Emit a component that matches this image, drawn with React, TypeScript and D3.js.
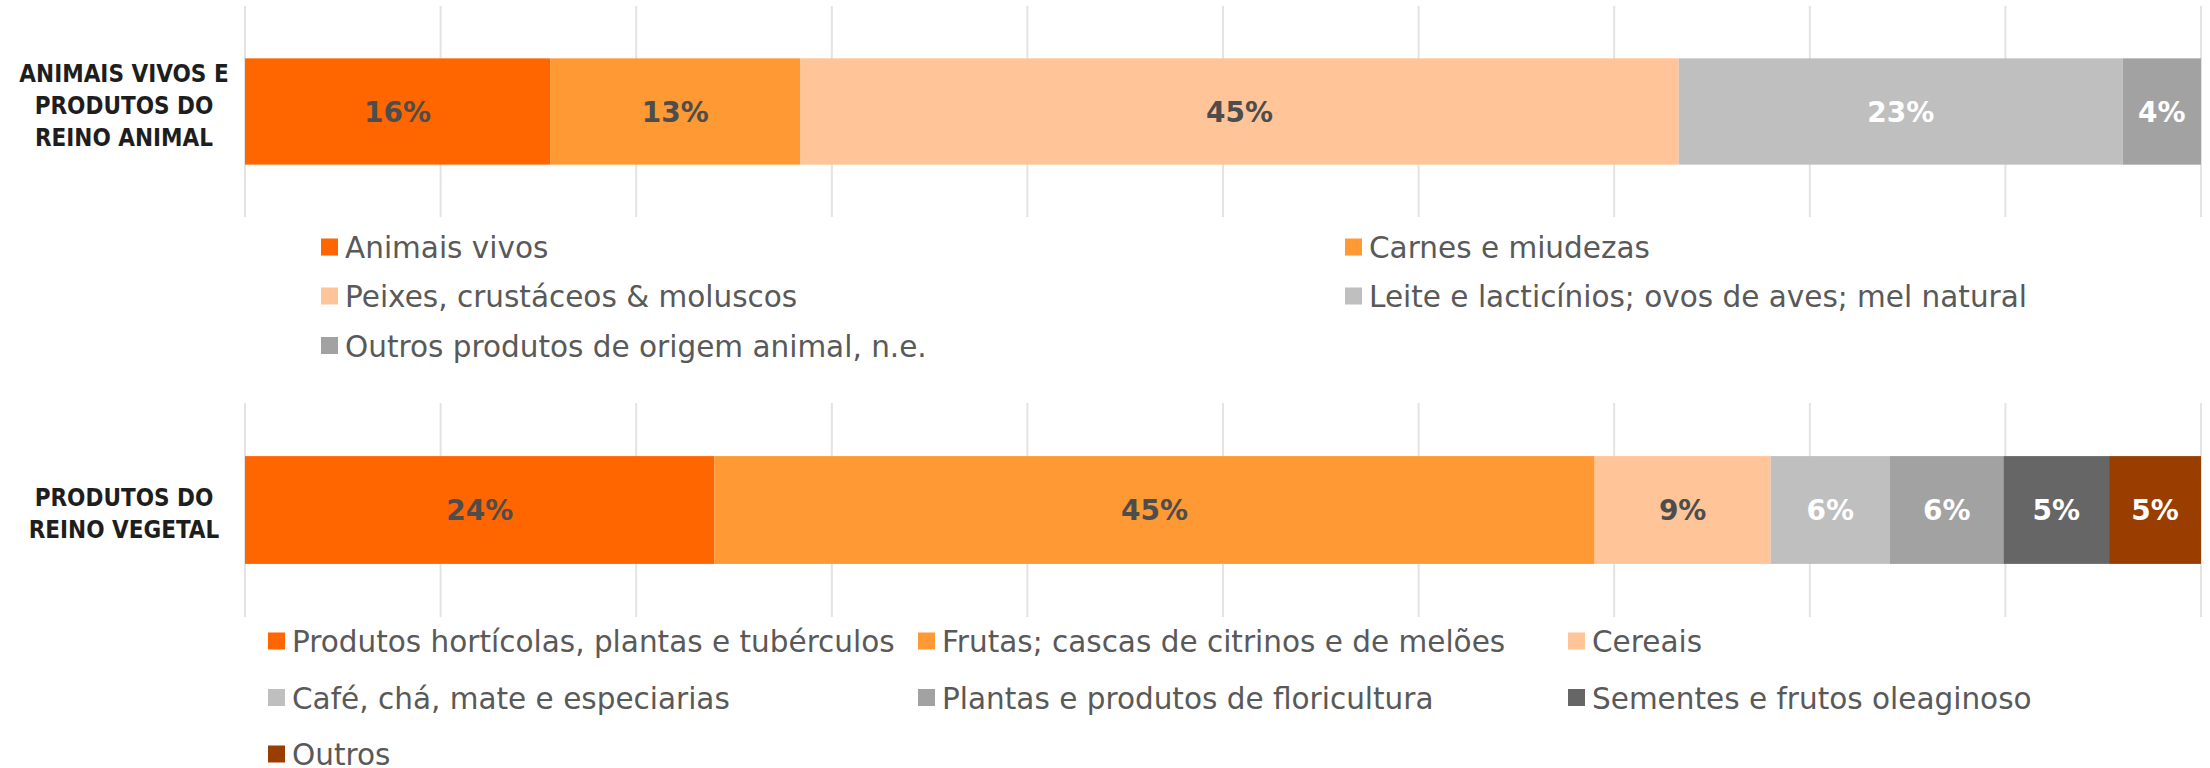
import React from "react";
import * as d3 from "d3";

const W = 2210;
const H = 768;

// ---- data ----
const animalCategoryLines = ["ANIMAIS VIVOS E", "PRODUTOS DO", "REINO ANIMAL"];
const animalSeries = [
  "Animais vivos",
  "Carnes e miudezas",
  "Peixes, crustáceos & moluscos",
  "Leite e lacticínios; ovos de aves; mel natural",
  "Outros produtos de origem animal, n.e.",
];
const animalValues = [15.6, 12.8, 44.9, 22.7, 4.0];
const animalColors = ["#FF6600", "#FF9933", "#FFC599", "#BFBFBF", "#A2A2A2"];
const animalLabelColors = ["#4D4D4D", "#4D4D4D", "#4D4D4D", "#FFFFFF", "#FFFFFF"];

const vegetalCategoryLines = ["PRODUTOS DO", "REINO VEGETAL"];
const vegetalSeries = [
  "Produtos hortícolas, plantas e tubérculos",
  "Frutas; cascas de citrinos e de melões",
  "Cereais",
  "Café, chá, mate e especiarias",
  "Plantas e produtos de floricultura",
  "Sementes e frutos oleaginoso",
  "Outros",
];
const vegetalValues = [24.0, 45.0, 9.0, 6.1, 5.8, 5.4, 4.7];
const vegetalColors = ["#FF6600", "#FF9933", "#FFC599", "#BFBFBF", "#A2A2A2", "#666666", "#993D00"];
const vegetalLabelColors = ["#4D4D4D", "#4D4D4D", "#4D4D4D", "#FFFFFF", "#FFFFFF", "#FFFFFF", "#FFFFFF"];

const xTicks = [0, 10, 20, 30, 40, 50, 60, 70, 80, 90, 100];

// ---- layout ----
const plotLeft = 245;
const plotRight = 2201;
const x = d3.scaleLinear().domain([0, 100]).range([plotLeft, plotRight]);

type PanelProps = {
  catLines: string[];
  series: string[];
  values: number[];
  colors: string[];
  labelColors: string[];
  gridTop: number;
  gridBottom: number;
  catNudge: number;
  legendCols: number[];
  legendRows: number[];
};

function Panel(p: PanelProps) {
  const y = d3.scaleBand<string>().domain(["cat"]).range([p.gridTop, p.gridBottom]).padding(0.33);
  const by = y("cat") as number;
  const bh = y.bandwidth();
  const cy = by + bh / 2;
  const stack = d3.cumsum(p.values);
  const starts = p.values.map((v, i) => stack[i] - v);
  const lineH = 32;
  const nL = p.catLines.length;
  const ncols = p.legendCols.length;
  return (
    <g>
      {xTicks.map((t) => (
        <line
          key={t}
          x1={x(t)}
          x2={x(t)}
          y1={p.gridTop}
          y2={p.gridBottom}
          stroke="#E3E3E3"
          strokeWidth={2}
        />
      ))}
      {p.values.map((v, i) => (
        <rect
          key={i}
          x={x(starts[i])}
          y={by}
          width={x(starts[i] + v) - x(starts[i])}
          height={bh}
          fill={p.colors[i]}
        />
      ))}
      {p.values.map((v, i) => (
        <text
          key={"l" + i}
          x={(x(starts[i]) + x(starts[i] + v)) / 2}
          y={cy + 0.5}
          textAnchor="middle"
          dominantBaseline="central"
          fontFamily="'DejaVu Sans', Verdana, sans-serif"
          fontWeight="bold"
          fontSize={28}
          fill={p.labelColors[i]}
        >
          {Math.round(v) + "%"}
        </text>
      ))}
      {p.catLines.map((l, i) => (
        <text
          key={"c" + i}
          x={124}
          y={cy + p.catNudge + (i - (nL - 1) / 2) * lineH}
          textAnchor="middle"
          dominantBaseline="central"
          fontFamily="'DejaVu Sans Condensed', 'DejaVu Sans', sans-serif"
          fontStretch="condensed"
          fontWeight="bold"
          fontSize={24}
          fill="#1E1E1E"
        >
          {l}
        </text>
      ))}
      {p.series.map((s, i) => {
        const col = i % ncols;
        const row = Math.floor(i / ncols);
        const lx = p.legendCols[col];
        const ly = p.legendRows[row];
        return (
          <g key={"g" + i}>
            <rect x={lx} y={ly - 8.5} width={17} height={17} fill={p.colors[i]} />
            <text
              x={lx + 24}
              y={ly + 1}
              dominantBaseline="central"
              fontFamily="'DejaVu Sans', Verdana, sans-serif"
              fontSize={29.5}
              fill="#595959"
            >
              {s}
            </text>
          </g>
        );
      })}
    </g>
  );
}

export default function App() {
  return (
    <div style={{ position: "absolute", left: 0, top: 0, width: W, height: H, background: "#fff" }}>
      <svg width={W} height={H} viewBox={`0 0 ${W} ${H}`} style={{ display: "block" }}>
        <rect x={0} y={0} width={W} height={H} fill="#FFFFFF" />
        <Panel
          catLines={animalCategoryLines}
          series={animalSeries}
          values={animalValues}
          colors={animalColors}
          labelColors={animalLabelColors}
          gridTop={6}
          gridBottom={217}
          catNudge={-6}
          legendCols={[321, 1345]}
          legendRows={[247, 296, 345.5]}
        />
        <Panel
          catLines={vegetalCategoryLines}
          series={vegetalSeries}
          values={vegetalValues}
          colors={vegetalColors}
          labelColors={vegetalLabelColors}
          gridTop={403}
          gridBottom={617}
          catNudge={4}
          legendCols={[268, 918, 1568]}
          legendRows={[641, 697.5, 754]}
        />
      </svg>
    </div>
  );
}
